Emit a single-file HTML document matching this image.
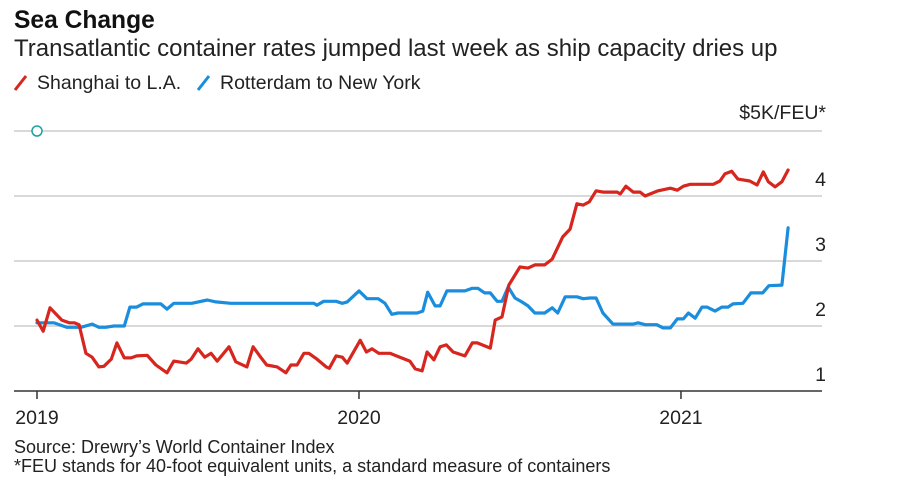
<!DOCTYPE html>
<html><head><meta charset="utf-8"><style>
body{margin:0;background:#fff;width:921px;height:498px;overflow:hidden;font-family:"Liberation Sans",Arial,sans-serif;color:#111}
svg{position:absolute;left:0;top:0}
</style></head><body>
<svg width="921" height="498">
<text x="14" y="28" font-size="24.6" font-weight="bold" fill="#111">Sea Change</text>
<text x="14" y="56" font-size="24" fill="#222">Transatlantic container rates jumped last week as ship capacity dries up</text>
<g>
<line x1="15" y1="90" x2="26" y2="76" stroke="#d7261e" stroke-width="3"/>
<text x="37" y="89" font-size="19.5" fill="#222">Shanghai to L.A.</text>
<line x1="198" y1="90" x2="209" y2="76" stroke="#1a8ddd" stroke-width="3"/>
<text x="220" y="89" font-size="19.5" fill="#222">Rotterdam to New York</text>
</g>
<g id="grid"></g>
<g id="axes"></g>
<g id="series"></g>
<text x="14" y="453" font-size="18" fill="#222">Source: Drewry’s World Container Index</text>
<text x="14" y="472" font-size="18" fill="#222">*FEU stands for 40-foot equivalent units, a standard measure of containers</text>
</svg>
<script>
const yTicks=[1,2,3,4,5];
const yearLabels=["2019","2020","2021"];
const yearWeeks=[0,52,104];
const redWeeks=[0,1,2.1,4,5.2,6,6.8,7.9,8.9,10,10.8,12,12.9,14.1,15.2,16.1,17.8,19.2,21,22.1,24.1,24.9,26,27.1,28.1,29.1,31,32.1,33.9,34.9,36.2,37.1,38.8,40.2,41,42,43.1,43.9,45.2,46.7,47.2,48.3,49.3,50.1,52.2,53.2,54.1,55.2,57,58.6,60.2,61.1,62.2,63,64.1,65.1,66.1,67.2,69.1,70.3,71.1,73.2,74,75.1,76.2,78,79.3,80.4,82,83.2,84.9,86.1,87.2,88.2,89.2,90.3,91.4,93.7,94.2,95.1,96.3,97.4,98.2,99,100.3,102.3,103.4,104.4,105.5,109.2,110.3,111.1,112.2,113.2,115.1,116.3,117.3,118.1,119.2,120.3,121.3];
const redValues=[2.09,1.92,2.28,2.09,2.05,2.05,2.02,1.58,1.52,1.37,1.38,1.49,1.74,1.51,1.51,1.54,1.55,1.40,1.28,1.46,1.43,1.49,1.65,1.52,1.58,1.46,1.68,1.45,1.37,1.68,1.51,1.40,1.37,1.28,1.40,1.40,1.58,1.58,1.49,1.37,1.35,1.54,1.52,1.43,1.78,1.60,1.65,1.58,1.58,1.52,1.46,1.34,1.31,1.60,1.48,1.68,1.71,1.60,1.54,1.74,1.74,1.66,2.09,2.14,2.63,2.91,2.89,2.94,2.94,3.03,3.37,3.49,3.88,3.86,3.91,4.08,4.06,4.06,4.03,4.15,4.06,4.06,4.00,4.03,4.08,4.12,4.09,4.15,4.18,4.18,4.23,4.34,4.38,4.26,4.23,4.17,4.37,4.22,4.14,4.22,4.40];
const blueWeeks=[0,2.7,4.8,7.1,8.9,10,11.1,12.4,14.1,15,16.1,17.1,20,21,22.1,25,27.5,28.9,31.3,44.7,45.2,46.3,48.3,49.3,50.1,52,53.3,55.1,56.2,57.3,58.3,61.4,62.3,63.1,64.3,65.1,66.2,69.1,70.3,71.2,72.3,73.2,74.3,75.1,76.1,77.2,78.3,79.3,80.4,82,83.2,84.1,85.3,87.2,88.2,89.3,90.3,91.4,93,96.3,97.1,98.2,100.1,101.1,102.3,103.4,104.4,105.2,106.3,107.4,108.2,109.5,110.6,111.6,112.4,114,115.3,117.2,118.2,120.3,121.3];
const blueValues=[2.05,2.05,1.98,1.98,2.03,1.98,1.98,2.00,2.00,2.29,2.29,2.34,2.34,2.26,2.35,2.35,2.40,2.37,2.35,2.35,2.32,2.38,2.38,2.35,2.37,2.54,2.42,2.42,2.35,2.18,2.20,2.20,2.23,2.52,2.31,2.31,2.54,2.54,2.58,2.58,2.51,2.51,2.38,2.38,2.60,2.43,2.37,2.31,2.20,2.20,2.28,2.20,2.45,2.45,2.42,2.43,2.43,2.20,2.03,2.03,2.05,2.02,2.02,1.97,1.97,2.11,2.11,2.20,2.12,2.29,2.29,2.23,2.29,2.29,2.34,2.35,2.51,2.51,2.62,2.63,3.51];

const NS="http://www.w3.org/2000/svg";
const xs=w=>37+w*6.192;
const ys=v=>391-(v-1)*65;
function mk(tag,attrs,parent){const e=document.createElementNS(NS,tag);for(const k in attrs)e.setAttribute(k,attrs[k]);parent.appendChild(e);return e;}
const grid=document.getElementById('grid'),axes=document.getElementById('axes'),series=document.getElementById('series');
yTicks.forEach(t=>{
  if(t>1){const l=mk('line',{x1:14,x2:822,y1:ys(t),y2:ys(t),stroke:'#d9d9d9','stroke-width':2},grid);
  
  }
  if(t<5){const tx=mk('text',{x:826,y:ys(t)-10,'font-size':19.5,'text-anchor':'end',fill:'#222'},axes);
  tx.textContent=String(t);
  
  }
});
const unit=mk('text',{x:826,y:ys(5)-12,'font-size':19.5,'text-anchor':'end',fill:'#222'},axes);
unit.textContent='$5K/FEU*';


const base=mk('line',{x1:14,x2:822,y1:391,y2:391,stroke:'#333','stroke-width':1.5},axes);


yearLabels.forEach((lab,i)=>{
  const x=xs(yearWeeks[i]);
  const tk=mk('line',{x1:x,x2:x,y1:391,y2:399,stroke:'#333','stroke-width':1.5},axes);
  
  
  const tx=mk('text',{x:x,y:424,'font-size':19.5,'text-anchor':'middle',fill:'#222'},axes);
  tx.textContent=lab;
  
  
});
const c=mk('circle',{cx:xs(0),cy:ys(5),r:5,fill:'#fff',stroke:'#1aa3a3','stroke-width':1.5},axes);


function line(ws,vs,color,name){
  const d=ws.map((w,i)=>(i?'L':'M')+xs(w).toFixed(1)+' '+ys(vs[i]).toFixed(1)).join(' ');
  const p=mk('path',{d:d,fill:'none',stroke:color,'stroke-width':3.2,'stroke-linejoin':'round','stroke-linecap':'round'},series);
  
  
}
line(blueWeeks,blueValues,'#1a8ddd','rotterdam-line');
line(redWeeks,redValues,'#d7261e','shanghai-line');
</script>
</body></html>
